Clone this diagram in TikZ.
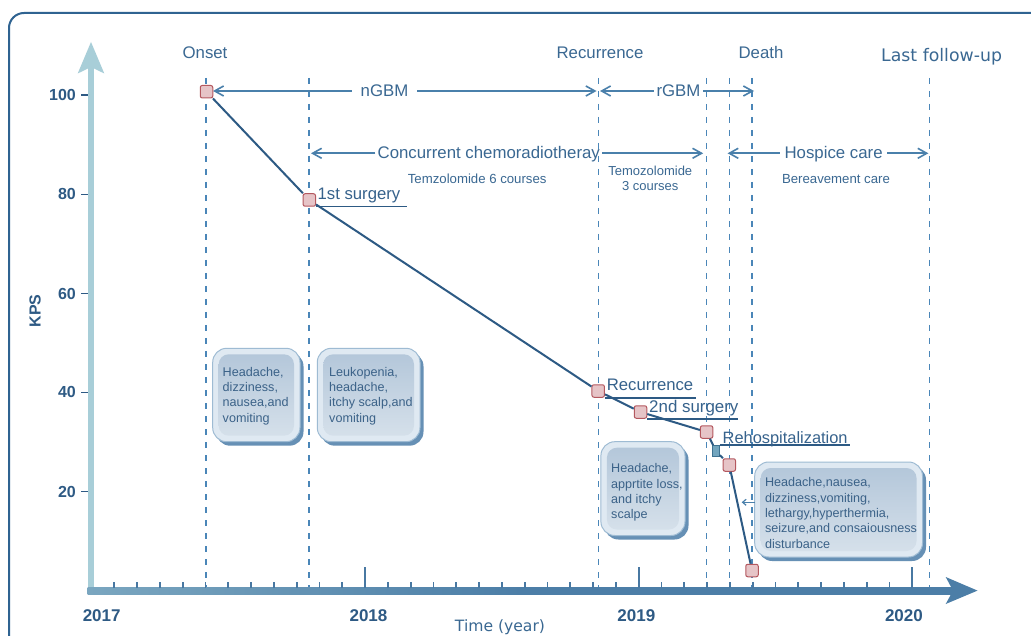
\documentclass[tikz,border=0pt]{standalone}
\usepackage{fontspec}
\setmainfont{Liberation Sans}
\newfontfamily\dvs{DejaVu Sans}
\usetikzlibrary{arrows.meta}
\definecolor{framec}{HTML}{2F6391}
\definecolor{labc}{HTML}{3A6892}
\definecolor{axlab}{HTML}{2E5A84}
\definecolor{arrc}{HTML}{4A80AB}
\definecolor{dashc}{HTML}{4A86B8}
\definecolor{yaxc}{HTML}{A8CED8}
\definecolor{xaxc}{HTML}{4C7EA7}
\definecolor{tickc}{HTML}{4878A2}
\definecolor{trendc}{HTML}{2D5A84}
\definecolor{annc}{HTML}{36628C}
\definecolor{ptfill}{HTML}{E6C4C7}
\definecolor{ptdraw}{HTML}{B4585F}
\definecolor{qfill}{HTML}{72A5BE}
\definecolor{qdraw}{HTML}{3E7291}
\definecolor{boxrim}{HTML}{DFE9F2}
\definecolor{boxborder}{HTML}{9EBBD3}
\definecolor{boxtop}{HTML}{B4C7DA}
\definecolor{boxbot}{HTML}{D5E0EA}
\definecolor{boxshadow}{HTML}{6690B5}
\definecolor{boxtxt}{HTML}{3B6288}
\pgfdeclarehorizontalshading{xgrad}{100bp}{color(0bp)=(yaxc); color(50bp)=(xaxc); color(100bp)=(xaxc)}
\newcommand\fsz[2]{\fontsize{#1}{#2}\selectfont}
\newcommand\symbox[5]{%
  \fill[boxshadow,rounded corners=14pt] ({#2+3.5},{#3+4}) rectangle ({#4+3.5},{#5+4});
  \draw[boxborder,fill=boxrim,line width=1pt,rounded corners=14pt] (#2,#3) rectangle (#4,#5);
  \shade[top color=boxtop,bottom color=boxbot,rounded corners=10pt] ({#2+6},{#3+6}) rectangle ({#4-6},{#5-6});
  \coordinate (#1) at (#2,{(#3+#5)/2});
}
\tikzset{
  toplab/.style={anchor=base,inner sep=0pt,text=labc,font=\fsz{16.8}{18}},
  sublab/.style={anchor=base,inner sep=0pt,text=labc,font=\fsz{13.2}{15}},
  ylab/.style={anchor=east,inner sep=0pt,text=axlab,font=\bfseries\fsz{16}{16}},
  yearlab/.style={anchor=base,inner sep=0pt,text=axlab,font=\bfseries\fsz{17}{17}},
  boxtext/.style={anchor=north west,align=left,inner sep=0pt,text=boxtxt,font=\fsz{12.6}{15.3}},
  annot/.style={anchor=base west,inner sep=0pt,text=annc,font=\fsz{16.7}{18}},
  tl/.style={draw=arrc,line width=1.6pt,-{Straight Barb[length=9pt,width=10pt]}},
  ul/.style={draw=trendc,line width=1.5pt},
  pt/.style={rectangle,minimum size=12.5pt,inner sep=0pt,fill=ptfill,draw=ptdraw,line width=1pt,rounded corners=2pt},
  qpt/.style={rectangle,minimum width=7pt,minimum height=11pt,inner sep=0pt,fill=qfill,draw=qdraw,line width=0.8pt},
  dashln/.style={dashc,line width=1.2pt,dash pattern=on 6pt off 7pt},
  tickln/.style={tickc,line width=1.8pt},
}
\begin{document}
\begin{tikzpicture}[x=1pt,y=-1pt]
\fill[white] (0,0) rectangle (1031,636);
\useasboundingbox (0,0) rectangle (1031,636);
\clip (0,0) rectangle (1031,636);
% frame
\draw[framec,line width=2pt,rounded corners=15pt] (9,700) -- (9,13) -- (1100,13);
% dashed verticals
\foreach \a in {206,309,598.2,706.3,729.3,752,929.3}
  \draw[dashln] (\a,78) -- (\a,588);
% axes
\fill[yaxc] (87.7,66) rectangle (94.3,594);
\fill[yaxc] (91,42) -- (104.3,73.5) -- (91,67) -- (77.7,73.5) -- cycle;
\shade[shading=xgrad] (87.5,587.3) rectangle (955,594);
\fill[xaxc] (977.5,590.6) -- (945.7,577) -- (953,590.6) -- (945.7,604) -- cycle;
\foreach \k in {1,...,36} \draw[tickln] ({91.5+22.8*\k},588) -- ++(0,-6.5);
\foreach \k in {12,24,36} \draw[tickln] ({91.5+22.8*\k},588) -- ++(0,-21);
\foreach \v/\y in {100/95,80/194.3,60/293.5,40/392.3,20/491.7}{
  \draw[axlab,line width=1.5pt] (81,\y) -- (87.5,\y);
  \node[ylab] (y\v) at (76,\y) {\v};
}
\foreach \t/\x in {2017/101.7,2018/368.5,2019/636.3,2020/903.9}
  \node[yearlab] (yr\t) at (\x,621.7) {\t};
\node[anchor=base,inner sep=0pt,text=labc,font=\dvs\fsz{15.6}{16}] (tlab) at (500,631.5) {Time (year)};
\node[rotate=90,inner sep=0pt,text=axlab,font=\bfseries\fsz{16}{16}] (kps) at (35,311) {KPS};
% top labels
\node[toplab] (onset) at (205,59) {Onset};
\node[toplab] (rec) at (600,59) {Recurrence};
\node[toplab] (death) at (761,59) {Death};
\node[toplab,font=\dvs\fsz{17.3}{18}] (lfu) at (941.6,61.5) {Last follow-up};
% period arrows row 1
\node[toplab,inner xsep=8.5pt] (ngbm) at (384.5,96.7) {nGBM};
\coordinate (ngL) at (213,91); \coordinate (ngR) at (596.5,91);
\draw[tl] (ngbm.west |- ngL) -- (ngL);
\draw[tl] (ngbm.east |- ngR) -- (ngR);
\node[toplab,inner xsep=2.5pt] (rgbm) at (678.5,96.7) {rGBM};
\coordinate (rgL) at (600,91); \coordinate (rgR) at (754,91);
\draw[tl] (rgbm.west |- rgL) -- (rgL);
\draw[tl] (rgbm.east |- rgR) -- (rgR);
% row 2
\node[toplab,inner xsep=2pt] (ccrt) at (488.8,158.3) {Concurrent chemoradiotheray};
\coordinate (ccL) at (311,153.3); \coordinate (ccR) at (703.2,153.3);
\draw[tl] (ccrt.west |- ccL) -- (ccL);
\draw[tl] (ccrt.east |- ccR) -- (ccR);
\node[toplab,inner xsep=4.5pt] (hosp) at (833.6,158.3) {Hospice care};
\coordinate (hcL) at (727.6,153.3); \coordinate (hcR) at (928.4,153.3);
\draw[tl] (hosp.west |- hcL) -- (hcL);
\draw[tl] (hosp.east |- hcR) -- (hcR);
% sub labels
\node[sublab] (tz6) at (477.2,183.3) {Temzolomide 6 courses};
\node[sublab,anchor=north,align=center,font=\fsz{13}{15}] (tz3) at (650.3,166) {Temozolomide\\3 courses};
\node[sublab] (bc) at (836,183.3) {Bereavement care};
% symptom boxes
\symbox{b1}{212.7}{348.3}{300}{441.7}
\node[boxtext] (t1) at (222.5,366.8) {Headache,\\dizziness,\\nausea,and\\vomiting};
\symbox{b2}{317.3}{348.3}{420}{441.7}
\node[boxtext] (t2) at (329,366.8) {Leukopenia,\\headache,\\itchy scalp,and\\vomiting};
\symbox{b3}{600.9}{441.7}{685}{535.5}
\node[boxtext] (t3) at (611,463.5) {Headache,\\apprtite loss,\\and itchy\\scalpe};
\symbox{b4}{754.7}{462}{922.5}{557}
\node[boxtext] (t4) at (764.8,477.5) {Headache,nausea,\\dizziness,vomiting,\\lethargy,hyperthermia,\\seizure,and consaiousness\\disturbance};
\coordinate (sa) at (741.7,502.3);
\draw[arrc,line width=1.2pt,-{Straight Barb[length=3.5pt,width=6pt]}] (b4 |- sa) -- (sa);
% KPS trend
\node[pt] (p1) at (206.5,91.7) {};
\node[pt] (p2) at (309.3,200) {};
\node[pt] (p3) at (598.2,391) {};
\node[pt] (p4) at (640.5,412) {};
\node[pt] (p5) at (706.6,432) {};
\node[qpt] (q) at (716,451) {};
\node[pt] (p6) at (729.3,465) {};
\node[pt] (p7) at (752,570.5) {};
\draw[trendc,line width=2pt] (p1) -- (p2) -- (p3) -- (p4) -- (p5) -- (q) -- (p6) -- (p7);
\draw[ul] (p2.south east) -- ++(91,0);
\node[annot] (l1) at (317.5,200) {1st surgery};
\draw[ul] (p3.south east) -- ++(91.5,0);
\node[annot] (l3) at (606.7,390.5) {Recurrence};
\draw[ul] (p4.south east) -- ++(91,0);
\node[annot,font=\fsz{16.9}{18}] (l4) at (649,412) {2nd surgery};
\draw[ul] (q.north east) -- ++(130,0);
\node[annot,font=\fsz{16.4}{18}] (l5) at (722.5,443) {Rehospitalization};
\end{tikzpicture}
\end{document}
